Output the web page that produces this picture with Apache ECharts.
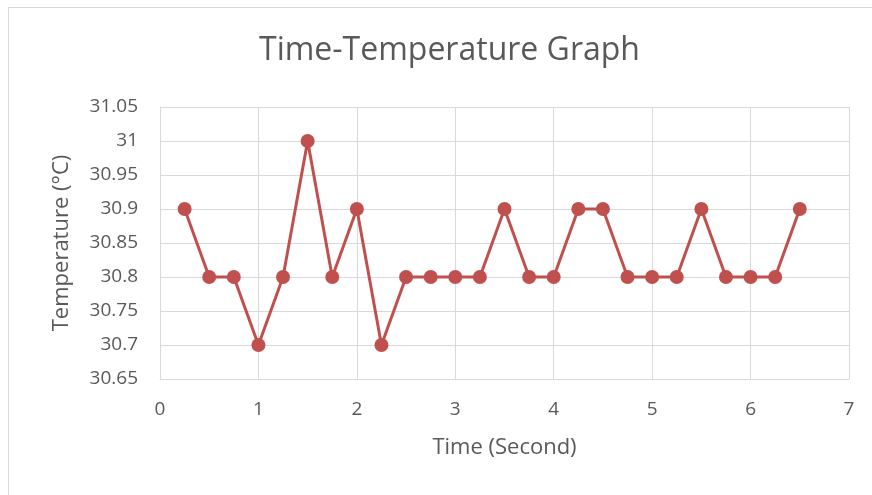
<!DOCTYPE html>
<html>
<head>
<meta charset="utf-8">
<script src="https://cdn.jsdelivr.net/npm/echarts@6/dist/echarts.min.js"></script>
<style>
  html, body { margin: 0; padding: 0; background: #fff; }
  #chart { width: 872px; height: 495px; }
</style>
</head>
<body>
<div id="chart"></div>
<script>
// time in seconds
const timeSec = [0.25, 0.5, 0.75, 1, 1.25, 1.5, 1.75, 2, 2.25, 2.5, 2.75, 3, 3.25,
  3.5, 3.75, 4, 4.25, 4.5, 4.75, 5, 5.25, 5.5, 5.75, 6, 6.25, 6.5];
// temperature readings (°C)
const tempC = [30.9, 30.8, 30.8, 30.7, 30.8, 31, 30.8, 30.9, 30.7, 30.8, 30.8, 30.8, 30.8,
  30.9, 30.8, 30.8, 30.9, 30.9, 30.8, 30.8, 30.8, 30.9, 30.8, 30.8, 30.8, 30.9];

const chartInstance = echarts.init(document.getElementById('chart'));
const font = '"Open Sans", "Noto Sans", sans-serif';
const textColor = '#595959';

const option = {
  animation: false,
  title: {
    text: 'Time-Temperature Graph',
    left: 254,
    top: 30,
    textStyle: { fontFamily: font, fontSize: 32, fontWeight: 'normal', color: textColor },
  },
  graphic: [
    {
      type: 'rect',
      shape: { x: 8.5, y: 7.5, width: 900, height: 600 },
      style: { fill: 'none', stroke: '#d9d9d9', lineWidth: 1 },
      silent: true,
    },
  ],
  grid: { left: 160, right: 23, top: 107, bottom: 116 },
  xAxis: {
    type: 'value',
    min: 0,
    max: 7,
    interval: 1,
    name: 'Time (Second)',
    nameLocation: 'middle',
    nameGap: 58,
    nameTextStyle: { fontFamily: font, fontSize: 22, color: textColor },
    axisLine: { show: true, lineStyle: { color: '#d9d9d9', width: 1 } },
    axisTick: { show: false },
    axisLabel: { fontFamily: font, fontSize: 19, color: textColor, margin: 21 },
    splitLine: { show: true, lineStyle: { color: '#d9d9d9', width: 1 } },
  },
  yAxis: {
    type: 'value',
    min: 30.65,
    max: 31.05,
    interval: 0.05,
    name: 'Temperature (°C)',
    nameLocation: 'middle',
    nameGap: 87,
    nameRotate: 90,
    nameTextStyle: { fontFamily: font, fontSize: 22, color: textColor },
    axisLine: { show: true, lineStyle: { color: '#d9d9d9', width: 1 } },
    axisTick: { show: false },
    axisLabel: {
      fontFamily: font,
      fontSize: 19,
      color: textColor,
      margin: 22,
      formatter: (v) => String(parseFloat(v.toFixed(2))),
    },
    splitLine: { show: true, lineStyle: { color: '#d9d9d9', width: 1 } },
  },
  series: [
    {
      name: 'Temperature',
      type: 'line',
      data: timeSec.map((t, i) => [t, tempC[i]]),
      symbol: 'circle',
      symbolSize: 14,
      lineStyle: { color: '#c0504d', width: 3 },
      itemStyle: { color: '#c0504d' },
    },
  ],
};

chartInstance.setOption(option);
</script>
</body>
</html>
